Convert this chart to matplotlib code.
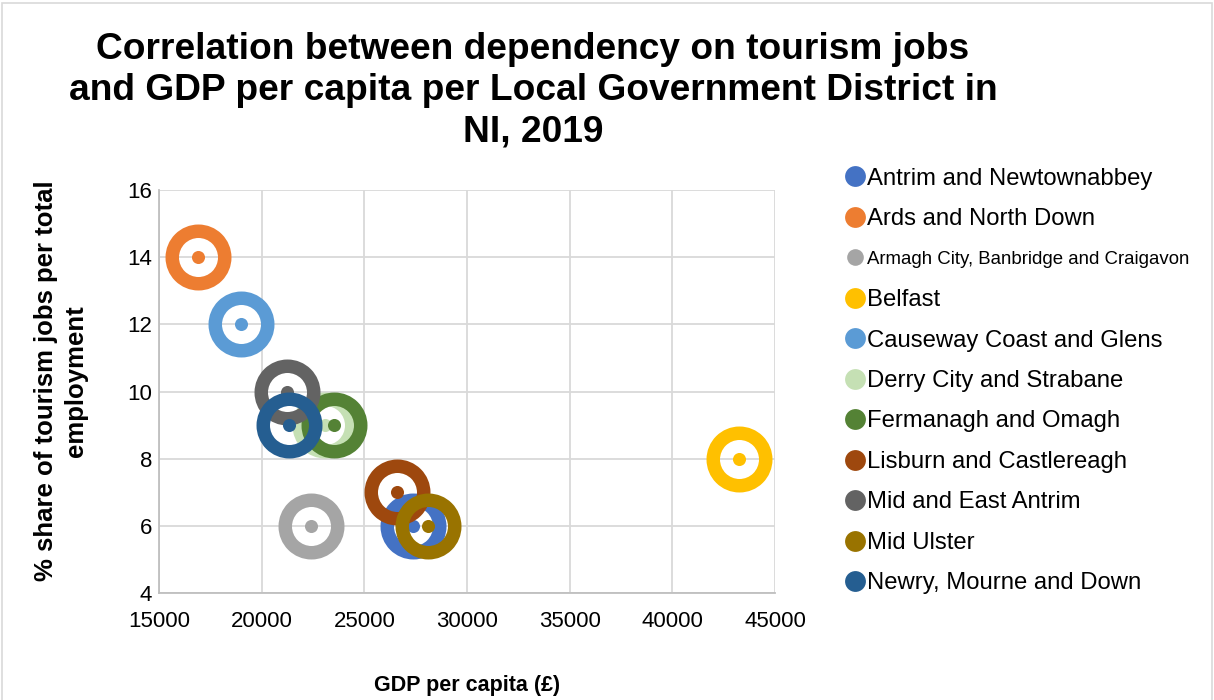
import matplotlib.pyplot as plt
from matplotlib.lines import Line2D
from matplotlib.patches import Rectangle

plt.rcParams['font.family'] = ['Liberation Sans', 'DejaVu Sans']

districts = ['Antrim and Newtownabbey', 'Ards and North Down',
             'Armagh City, Banbridge and Craigavon', 'Belfast',
             'Causeway Coast and Glens', 'Derry City and Strabane',
             'Fermanagh and Omagh', 'Lisburn and Castlereagh',
             'Mid and East Antrim', 'Mid Ulster', 'Newry, Mourne and Down']
gdp = [27350, 16900, 22400, 43250, 19000, 23100, 23500, 26600, 21250, 28100, 21350]
tourism_share = [6, 14, 6, 8, 12, 9, 9, 7, 10, 6, 9]
colors = ['#4472C4', '#ED7D31', '#A5A5A5', '#FFC000', '#5B9BD5', '#C5E0B4',
          '#548235', '#9E480E', '#636363', '#997300', '#255E91']

W, H = 1214, 700
fig = plt.figure(figsize=(W / 100, H / 100), dpi=100)
ax = fig.add_axes([159 / W, 1 - 593 / H, (775 - 159) / W, (593 - 190) / H])

for x, y, c in zip(gdp, tourism_share, colors):
    ax.plot(x, y, 'o', ms=37.8, mfc='none', mec=c, mew=9.7, zorder=3)
    ax.plot(x, y, 'o', ms=9.4, color=c, mec='none', zorder=3)

ax.set_xlim(15000, 45000)
ax.set_ylim(4, 16)
ax.set_xticks(range(15000, 45001, 5000))
ax.set_yticks(range(4, 17, 2))
ax.grid(True, color='#D9D9D9', lw=1.3)
ax.set_axisbelow(True)
for s in ['top', 'right']:
    ax.spines[s].set_visible(False)
for s in ['left', 'bottom']:
    ax.spines[s].set_color('#BFBFBF')
    ax.spines[s].set_linewidth(1.3)
ax.tick_params(length=0, labelsize=16, pad=5)
ax.tick_params(axis='x', pad=13)

fig.text(467 / W, 1 - 686 / H, 'GDP per capita (£)', ha='center', va='center',
         fontsize=15.5, fontweight='bold')
fig.text(61 / W, 1 - 381 / H, '% share of tourism jobs per total\nemployment',
         ha='center', va='center', rotation=90, fontsize=18.5, fontweight='bold',
         linespacing=1.3)

fig.text(533 / W, 1 - 91 / H, 'Correlation between dependency on tourism jobs\n'
         'and GDP per capita per Local Government District in\nNI, 2019',
         ha='center', va='center', fontsize=26.7, fontweight='bold', linespacing=1.24)

# legend, drawn entry by entry so every row has the same height
for i, (name, c) in enumerate(zip(districts, colors)):
    yf = 1 - (176 + 40.5 * i) / H
    small = name.startswith('Armagh')
    fig.add_artist(Line2D([855 / W], [yf], ls='none', marker='o',
                          ms=12 if small else 15, color=c, mec='none',
                          transform=fig.transFigure))
    fig.text(867 / W, yf - 2.5 / H, name, ha='left', va='center',
             fontsize=13.4 if small else 17.2)

fig.add_artist(Rectangle((0.002, -0.01), 0.996, 1.006, transform=fig.transFigure,
                         fill=False, ec='#D9D9D9', lw=1.2))

fig.savefig('out.png', dpi=100)
